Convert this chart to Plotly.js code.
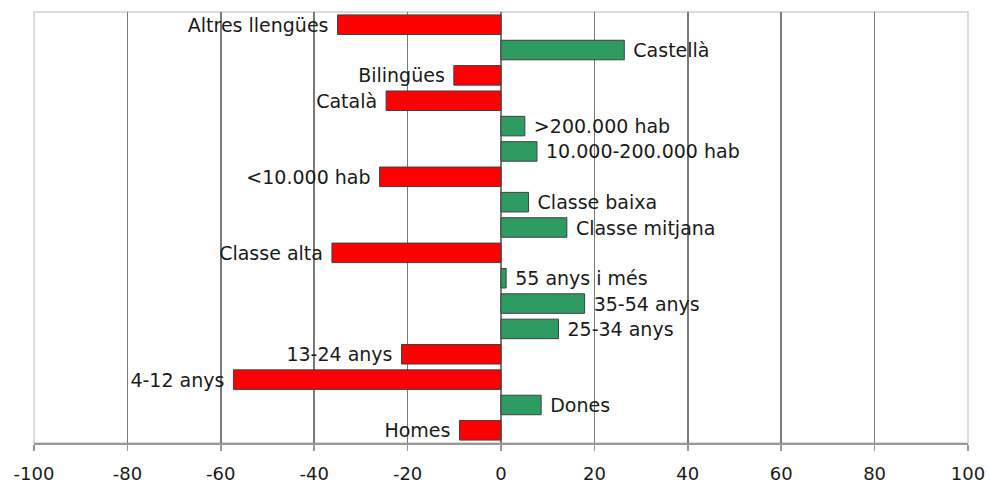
<!DOCTYPE html>
<html>
<head>
<meta charset="utf-8">
<script src="https://cdn.plot.ly/plotly-3.0.1.min.js"></script>
<style>html,body{margin:0;padding:0;background:#fff;}#chart{width:990px;height:489px;}</style>
</head>
<body>
<div id="chart"></div>
<script>
const categories = ["Altres llengües","Castellà","Bilingües","Català",">200.000 hab","10.000-200.000 hab","<10.000 hab","Classe baixa","Classe mitjana","Classe alta","55 anys i més","35-54 anys","25-34 anys","13-24 anys","4-12 anys","Dones","Homes"];
const values = [-35.0, 26.4, -10.1, -24.6, 5.1, 7.7, -26.0, 5.9, 14.1, -36.2, 1.1, 17.9, 12.3, -21.3, -57.3, 8.6, -8.9];
const xTicks = [-100,-80,-60,-40,-20,0,20,40,60,80,100];

const colors = values.map(v => v < 0 ? "#FF0000" : "#2E9B62");
const labels = categories.map((c, i) => values[i] < 0 ? c + "\u00a0" : "\u00a0" + c);
const FONT = "DejaVu Sans, Verdana, sans-serif";

const trace = {
  type: "bar",
  orientation: "h",
  y: categories,
  x: values,
  width: 0.77,
  marker: {color: colors, line: {color: "#404040", width: 1}},
  text: labels,
  textposition: "outside",
  texttemplate: "%{text}",
  constraintext: "none",
  cliponaxis: false,
  textfont: {family: FONT, size: 19, color: "#1a1a1a"},
  hoverinfo: "x+y"
};

const layout = {
  width: 990, height: 489,
  margin: {l: 33.5, r: 22.3, t: 12, b: 45.7},
  paper_bgcolor: "#fff", plot_bgcolor: "#fff",
  showlegend: false,
  bargap: 0.23,
  xaxis: {
    range: [-100, 100],
    tickvals: xTicks,
    ticktext: xTicks.map(String),
    showgrid: true, gridcolor: "#7a7a7a", gridwidth: 1.5,
    zeroline: false,
    showline: true, linecolor: "#999", linewidth: 1.5,
    ticks: "outside", ticklen: 6, tickcolor: "#999", tickwidth: 1.5,
    ticklabelstandoff: 8,
    tickfont: {family: FONT, size: 18, color: "#1a1a1a"},
    mirror: false
  },
  yaxis: {
    type: "category",
    autorange: "reversed",
    showticklabels: false,
    showgrid: false, zeroline: false, ticks: "",
    showline: false
  },
  shapes: [
    {type: "rect", xref: "paper", yref: "paper", x0: 0, x1: 1, y0: 0, y1: 1,
     line: {color: "#d0d0d0", width: 1.5}, layer: "below"}
  ]
};

Plotly.newPlot("chart", [trace], layout, {displayModeBar: false, staticPlot: true});
</script>
</body>
</html>
